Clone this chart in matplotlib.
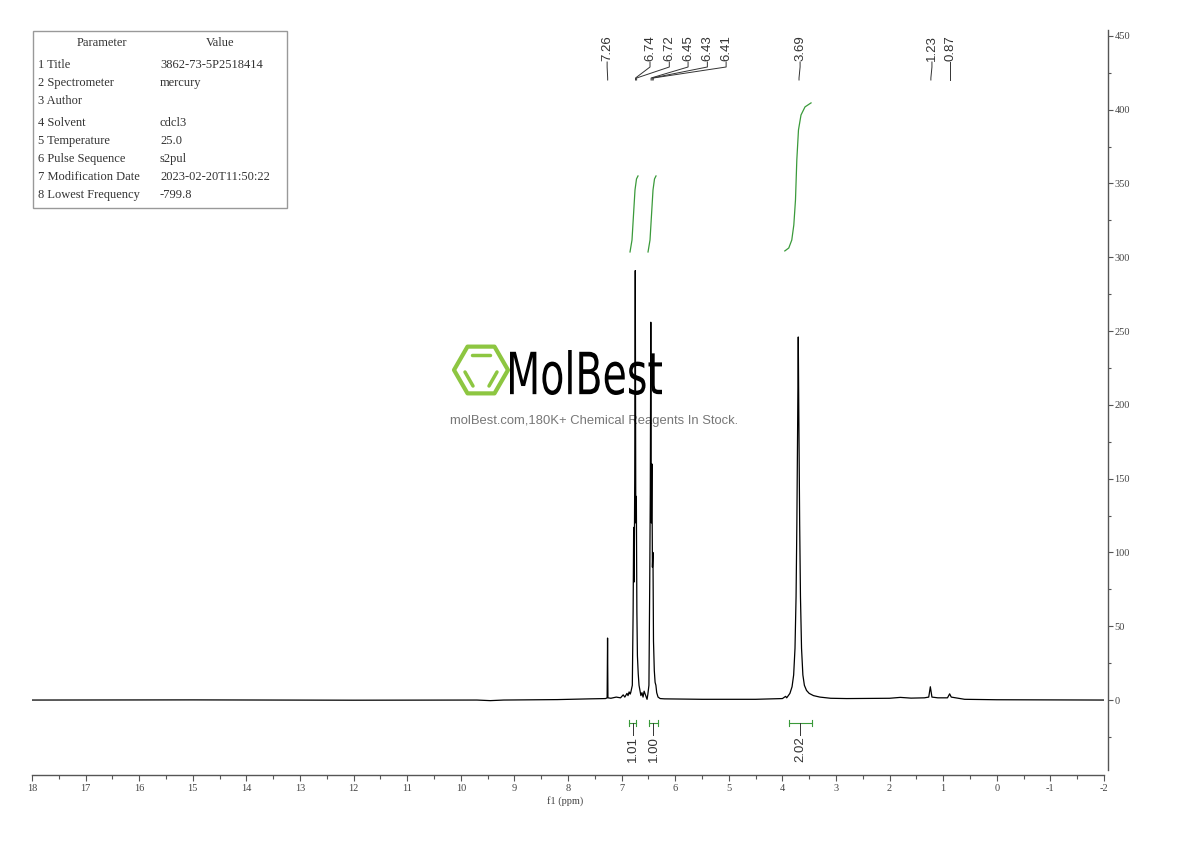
import matplotlib
matplotlib.use('Agg')
import matplotlib.pyplot as plt
import matplotlib.transforms as mtransforms
from matplotlib.patches import Polygon, Rectangle, PathPatch
from matplotlib.textpath import TextPath
from matplotlib.font_manager import FontProperties
from matplotlib.ticker import MultipleLocator

plt.rcParams['font.family'] = 'Liberation Serif'
plt.rcParams['axes.unicode_minus'] = False

# 1H spectrum trace (ppm, intensity)
ppm = [18.0, 15.0, 12.0, 9.7, 9.45, 9.2, 8.2, 7.6, 7.30, 7.27, 7.262, 7.255,
       7.20, 7.10, 7.02, 6.97, 6.94, 6.90, 6.88, 6.86, 6.84, 6.83, 6.80,
       6.785, 6.775, 6.765, 6.755, 6.745, 6.735, 6.725, 6.715, 6.705, 6.69,
       6.675, 6.66, 6.64, 6.62, 6.60, 6.58, 6.55, 6.525, 6.51, 6.49, 6.475,
       6.465, 6.455, 6.445, 6.435, 6.425, 6.415, 6.405, 6.39, 6.375, 6.36,
       6.345, 6.32, 6.28, 6.2, 5.5, 4.5, 4.0, 3.94, 3.92, 3.90, 3.86, 3.82,
       3.79, 3.765, 3.745, 3.73, 3.715, 3.704, 3.693, 3.678, 3.663, 3.643,
       3.618, 3.59, 3.55, 3.50, 3.42, 3.30, 3.1, 2.8, 2.0, 1.8, 1.6, 1.35,
       1.27, 1.24, 1.21, 1.1, 0.92, 0.88, 0.85, 0.6, 0.0, -2.0]
intensity = [0.0, 0.1, -0.1, 0.0, -0.4, 0.0, 0.3, 0.8, 1.0, 1.5, 42.0, 1.5,
             1.2, 2.0, 1.5, 3.5, 2.0, 4.5, 3.0, 5.5, 4.0, 5.0, 10.0,
             60.0, 117.0, 80.0, 150.0, 291.0, 120.0, 138.0, 60.0, 30.0, 18.0,
             10.0, 7.0, 3.0, 5.0, 2.0, 6.0, 3.0, 0.5, 4.0, 10.0, 80.0,
             140.0, 256.0, 120.0, 160.0, 90.0, 100.0, 40.0, 20.0, 12.0, 10.0,
             5.0, 2.0, 1.0, 0.8, 0.5, 0.5, 1.0, 2.5, 1.5, 2.5, 4.5, 9.0,
             17.0, 35.0, 70.0, 120.0, 190.0, 246.0, 190.0, 120.0, 70.0, 35.0,
             17.0, 10.0, 6.5, 4.5, 3.0, 2.0, 1.2, 1.0, 1.2, 1.8, 1.3, 1.5,
             2.0, 9.0, 2.0, 1.5, 1.5, 4.2, 2.0, 0.5, 0.2, 0.0]

# peak picking labels
peak_labels = ['7.26', '6.74', '6.72', '6.45', '6.43', '6.41', '3.69', '1.23', '0.87']
peak_ppm = [7.26, 6.74, 6.72, 6.45, 6.43, 6.41, 3.69, 1.23, 0.87]
label_ppm = [7.27, 6.47, 6.11, 5.76, 5.40, 5.05, 3.67, 1.21, 0.87]

# integrals
int_labels = ['1.01', '1.00', '2.02']
int_from = [6.86, 6.49, 3.88]
int_to = [6.73, 6.32, 3.45]
int_curve_ppm = [
    [6.843, 6.806, 6.778, 6.750, 6.722, 6.694],
    [6.507, 6.470, 6.442, 6.414, 6.386, 6.358],
    [3.955, 3.881, 3.825, 3.787, 3.756, 3.731, 3.700, 3.653, 3.578, 3.466],
]
int_curve_val = [
    [303.6, 311.7, 328.7, 345.6, 353.1, 355.1],
    [303.6, 311.7, 328.7, 345.6, 353.1, 355.1],
    [304.3, 306.3, 311.7, 321.9, 338.8, 366.0, 386.3, 396.4, 401.9, 404.6],
]

# parameter table
param_names = ['1 Title', '2 Spectrometer', '3 Author', '4 Solvent', '5 Temperature',
               '6 Pulse Sequence', '7 Modification Date', '8 Lowest Frequency']
param_values = ['3862-73-5P2518414', 'mercury', '', 'cdcl3', '25.0', 's2pul',
                '2023-02-20T11:50:22', '-799.8']
row_y = [65, 83, 101, 123, 141, 159, 177, 195]

green = '#3a9a3a'
axis_col = '#555555'

fig = plt.figure(figsize=(11.9, 8.41), dpi=100)
ov = fig.add_axes([0, 0, 1, 1], zorder=0)
ov.set_xlim(0, 1190)
ov.set_ylim(841, 0)
ov.axis('off')

ax = fig.add_axes([32 / 1190, 71 / 841, 1072 / 1190, 740 / 841], zorder=1)
ax.patch.set_visible(False)
ax.set_xlim(18, -2)
ax.set_ylim(-47.4, 454)

ax.plot(ppm, intensity, color='black', lw=0.9)
for cp, cv in zip(int_curve_ppm, int_curve_val):
    ax.plot(cp, cv, color=green, lw=0.9)

# axes styling
for s in ['left', 'top']:
    ax.spines[s].set_visible(False)
ax.spines['bottom'].set_position(('outward', 3.6))
ax.spines['right'].set_position(('outward', 2.9))
for s in ['bottom', 'right']:
    ax.spines[s].set_color(axis_col)
    ax.spines[s].set_linewidth(1.0)
ax.yaxis.tick_right()
ax.xaxis.set_major_locator(MultipleLocator(1))
ax.xaxis.set_minor_locator(MultipleLocator(0.5))
ax.yaxis.set_major_locator(MultipleLocator(50))
ax.yaxis.set_minor_locator(MultipleLocator(25))
ax.tick_params(axis='both', which='both', direction='out', color=axis_col,
               labelcolor='#444444', labelsize=7.5, width=0.8)
ax.tick_params(axis='x', which='major', length=4.3, pad=2.5)
ax.tick_params(axis='x', which='minor', length=2.8)
ax.tick_params(axis='y', which='major', length=3.6, pad=1)
ax.tick_params(axis='y', which='minor', length=2.0)
ov.text(565, 801, 'f1 (ppm)', ha='center', va='center', fontsize=7.5, color='#444444')

# x in ppm, y in figure pixels
bt = mtransforms.blended_transform_factory(ax.transData, ov.transData)

for lab, p, lp in zip(peak_labels, peak_ppm, label_ppm):
    ax.text(lp, 61, lab, rotation=90, ha='center', va='bottom', fontsize=9.5,
            family='Liberation Sans', color='#333333', transform=bt, clip_on=False)
    ax.plot([lp, lp, p, p], [62, 67, 78, 80], color='#333333', lw=0.7,
            transform=bt, clip_on=False)

for lab, a, b in zip(int_labels, int_from, int_to):
    mid = (a + b) / 2
    ax.plot([a, b], [723, 723], color=green, lw=0.8, transform=bt, clip_on=False)
    ax.plot([a, a], [720, 726], color=green, lw=0.8, transform=bt, clip_on=False)
    ax.plot([b, b], [720, 726], color=green, lw=0.8, transform=bt, clip_on=False)
    ax.plot([mid, mid], [723, 735], color='#333333', lw=0.7, transform=bt, clip_on=False)
    ax.text(mid, 736, lab, rotation=90, ha='center', va='top', fontsize=9.5,
            family='Liberation Sans', color='#333333', transform=bt, clip_on=False)

# parameter table
ov.add_patch(Rectangle((33, 31), 254, 177, fill=False, ec='#999999', lw=1))
ov.text(102, 43, 'Parameter', ha='center', va='center', fontsize=9, color='#333333')
ov.text(220, 43, 'Value', ha='center', va='center', fontsize=9, color='#333333')
for name, val, y in zip(param_names, param_values, row_y):
    ov.text(38, y, name, ha='left', va='center', fontsize=9, color='#333333')
    ov.text(160, y, val, ha='left', va='center', fontsize=9, color='#333333')

# watermark
logo_green = '#8dc641'
hx, hy, hr = 481, 370, 27
hexagon = [(hx + hr, hy), (hx + hr / 2, hy + hr * 0.866), (hx - hr / 2, hy + hr * 0.866),
           (hx - hr, hy), (hx - hr / 2, hy - hr * 0.866), (hx + hr / 2, hy - hr * 0.866)]
ov.add_patch(Polygon(hexagon, closed=True, fill=False, ec=logo_green, lw=3.0, joinstyle='round'))
ov.plot([472, 490], [355, 355], color=logo_green, lw=2.5, solid_capstyle='round')
ov.plot([465, 473], [372, 386], color=logo_green, lw=2.5, solid_capstyle='round')
ov.plot([497, 489], [372, 386], color=logo_green, lw=2.5, solid_capstyle='round')

tp = TextPath((0, 0), 'MolBest', size=1, prop=FontProperties(family='DejaVu Sans'))
bb = tp.get_extents()
tr = mtransforms.Affine2D().translate(-bb.x0, -bb.y0).scale(152 / bb.width, -45 / bb.height).translate(510, 395)
ov.add_patch(PathPatch(tr.transform_path(tp), fc='black', ec='none'))
ov.text(594, 421, 'molBest.com,180K+ Chemical Reagents In Stock.', ha='center', va='center',
        fontsize=9.4, family='Liberation Sans', color='#777777')

fig.savefig('out.png', dpi=100)
